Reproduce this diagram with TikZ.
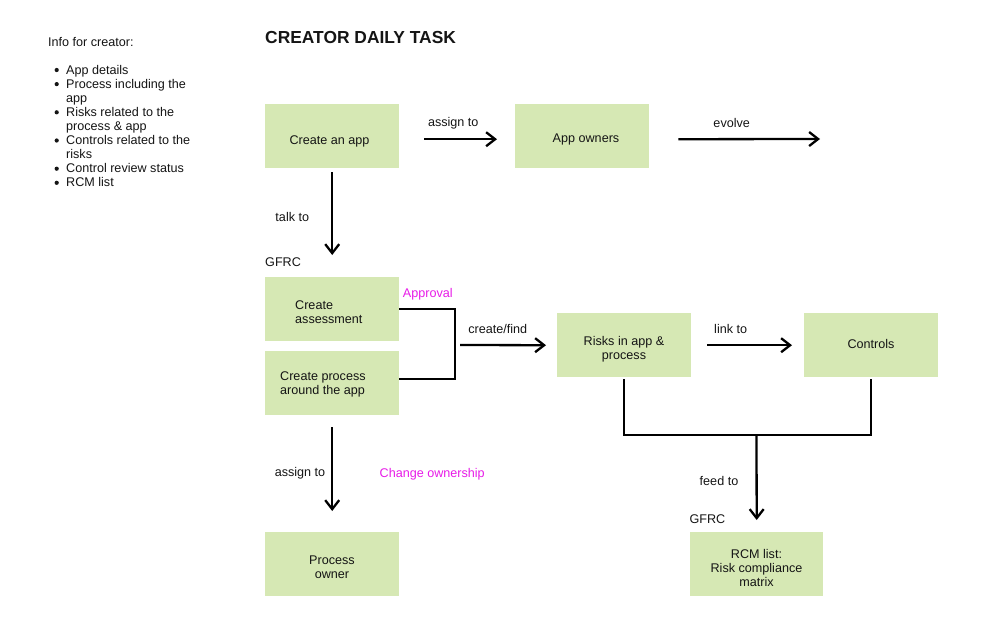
\documentclass[tikz,border=0pt]{standalone}
\usepackage{fontspec}
\setmainfont{Liberation Sans}
\usetikzlibrary{arrows.meta}
\definecolor{boxgreen}{HTML}{D6E8B4}
\definecolor{mag}{HTML}{E81CE8}
\definecolor{ink}{HTML}{151515}
\begin{document}
\begin{tikzpicture}[x=1pt,y=-1pt,
  box/.style={fill=boxgreen,draw=none,minimum width=134pt,minimum height=64pt,inner sep=0pt,anchor=north west},
  txt/.style={inner sep=0pt,font=\fontsize{12.6}{14.1}\selectfont,text=ink},
  mtxt/.style={txt,text=mag},
  dot/.style={circle,fill=ink,draw=none,inner sep=0pt,minimum size=4.2pt},
  conn/.style={line width=2.3pt,draw=black,line join=miter},
  arr/.style={conn,-{Straight Barb[length=9pt,width=14pt]}},
]
\useasboundingbox[fill=white] (0,0) rectangle (991,641);

% left info list
\node[txt,anchor=base west] (info) at (48,46.5) {Info for creator:};
\node[dot] (b1) at (56.7,70) {};
\node[txt,anchor=base west] (l1) at (66,74) {App details};
\node[dot] (b2) at (56.7,84.1) {};
\node[txt,anchor=base west] (l2) at (66,88.1) {Process including the};
\node[txt,anchor=base west] (l3) at (66,102.2) {app};
\node[dot] (b3) at (56.7,112.3) {};
\node[txt,anchor=base west] (l4) at (66,116.3) {Risks related to the};
\node[txt,anchor=base west] (l5) at (66,130.4) {process \& app};
\node[dot] (b4) at (56.7,140.5) {};
\node[txt,anchor=base west] (l6) at (66,144.5) {Controls related to the};
\node[txt,anchor=base west] (l7) at (66,158.6) {risks};
\node[dot] (b5) at (56.7,168.7) {};
\node[txt,anchor=base west] (l8) at (66,172.7) {Control review status};
\node[dot] (b6) at (56.7,182.8) {};
\node[txt,anchor=base west] (l9) at (66,186.8) {RCM list};

% title
\node[txt,anchor=base west,font=\bfseries\fontsize{17.4}{20}\selectfont] (title) at (265,43.3) {CREATOR DAILY TASK};

% boxes
\node[box] (app) at (265,104) {};
\node[box] (owners) at (515,104) {};
\node[box] (assess) at (265,277) {};
\node[box] (proc) at (265,351) {};
\node[box] (risks) at (557,313) {};
\node[box] (ctrl) at (804,313) {};
\node[box] (powner) at (265,532) {};
\node[box,minimum width=133pt] (rcm) at (690,532) {};

% box texts
\node[txt,anchor=base] (appT) at (329.5,144) {Create an app};
\node[txt,anchor=base] (ownersT) at (586,142) {App owners};
\node[txt,anchor=west,align=left] (assessT) at (295,312.6) {Create\\assessment};
\node[txt,anchor=west,align=left] (procT) at (280,384.5) {Create process\\around the app};
\node[txt,align=center] (risksT) at (624,348.8) {Risks in app \&\\process};
\node[txt,anchor=base] (ctrlT) at (871,348) {Controls};
\node[txt,align=center] (pownerT) at (332,566.9) {Process\\owner};
\node[txt,align=center] (rcmT) at (756.5,567.7) {RCM list:\\Risk compliance\\matrix};

% labels
\node[txt,anchor=base] (lab1) at (453.3,126.5) {assign to};
\node[txt,anchor=base] (lab2) at (731.7,127.3) {evolve};
\node[txt,anchor=base] (lab3) at (292.3,221.5) {talk to};
\node[txt,anchor=base west] (gfrc1) at (265,266.7) {GFRC};
\node[mtxt,anchor=base west] (appr) at (402.7,297.7) {Approval};
\node[txt,anchor=base] (lab4) at (497.7,333.3) {create/find};
\node[txt,anchor=base] (lab5) at (730.7,333.3) {link to};
\node[txt,anchor=base] (lab6) at (300,476.7) {assign to};
\node[mtxt,anchor=base west] (chown) at (379.5,477.7) {Change ownership};
\node[txt,anchor=base] (lab7) at (719,485) {feed to};
\node[txt,anchor=base west] (gfrc2) at (689.3,523.3) {GFRC};

% connectors
\coordinate (evend) at (820,139);
\coordinate (brk) at (455,345);
\coordinate (join) at (756.5,435);

\draw[arr] ([xshift=25pt,yshift=-3pt]app.east) -- ([xshift=-18pt,yshift=-3pt]owners.west);
\draw[arr] ([xshift=29pt,yshift=-3pt]owners.east) -- (evend);
\draw[arr] ([yshift=-4pt]app.south) -- ([yshift=22pt]assess.north);
\draw[conn] (assess.east) -| (brk) |- ([yshift=4pt]proc.east);
\draw[arr] ([xshift=5pt]brk) -- ([xshift=-11pt]risks.west);
\draw[arr] ([xshift=16pt]risks.east) -- ([xshift=-12pt]ctrl.west);
\draw[conn] ([yshift=-2pt]risks.south) |- (join) -| ([yshift=-2pt]ctrl.south);
\draw[arr] (join) -- ([yshift=12pt]rcm.north);
\draw[arr] ([yshift=-12pt]proc.south) -- ([yshift=21pt]powner.north);
\end{tikzpicture}
\end{document}
